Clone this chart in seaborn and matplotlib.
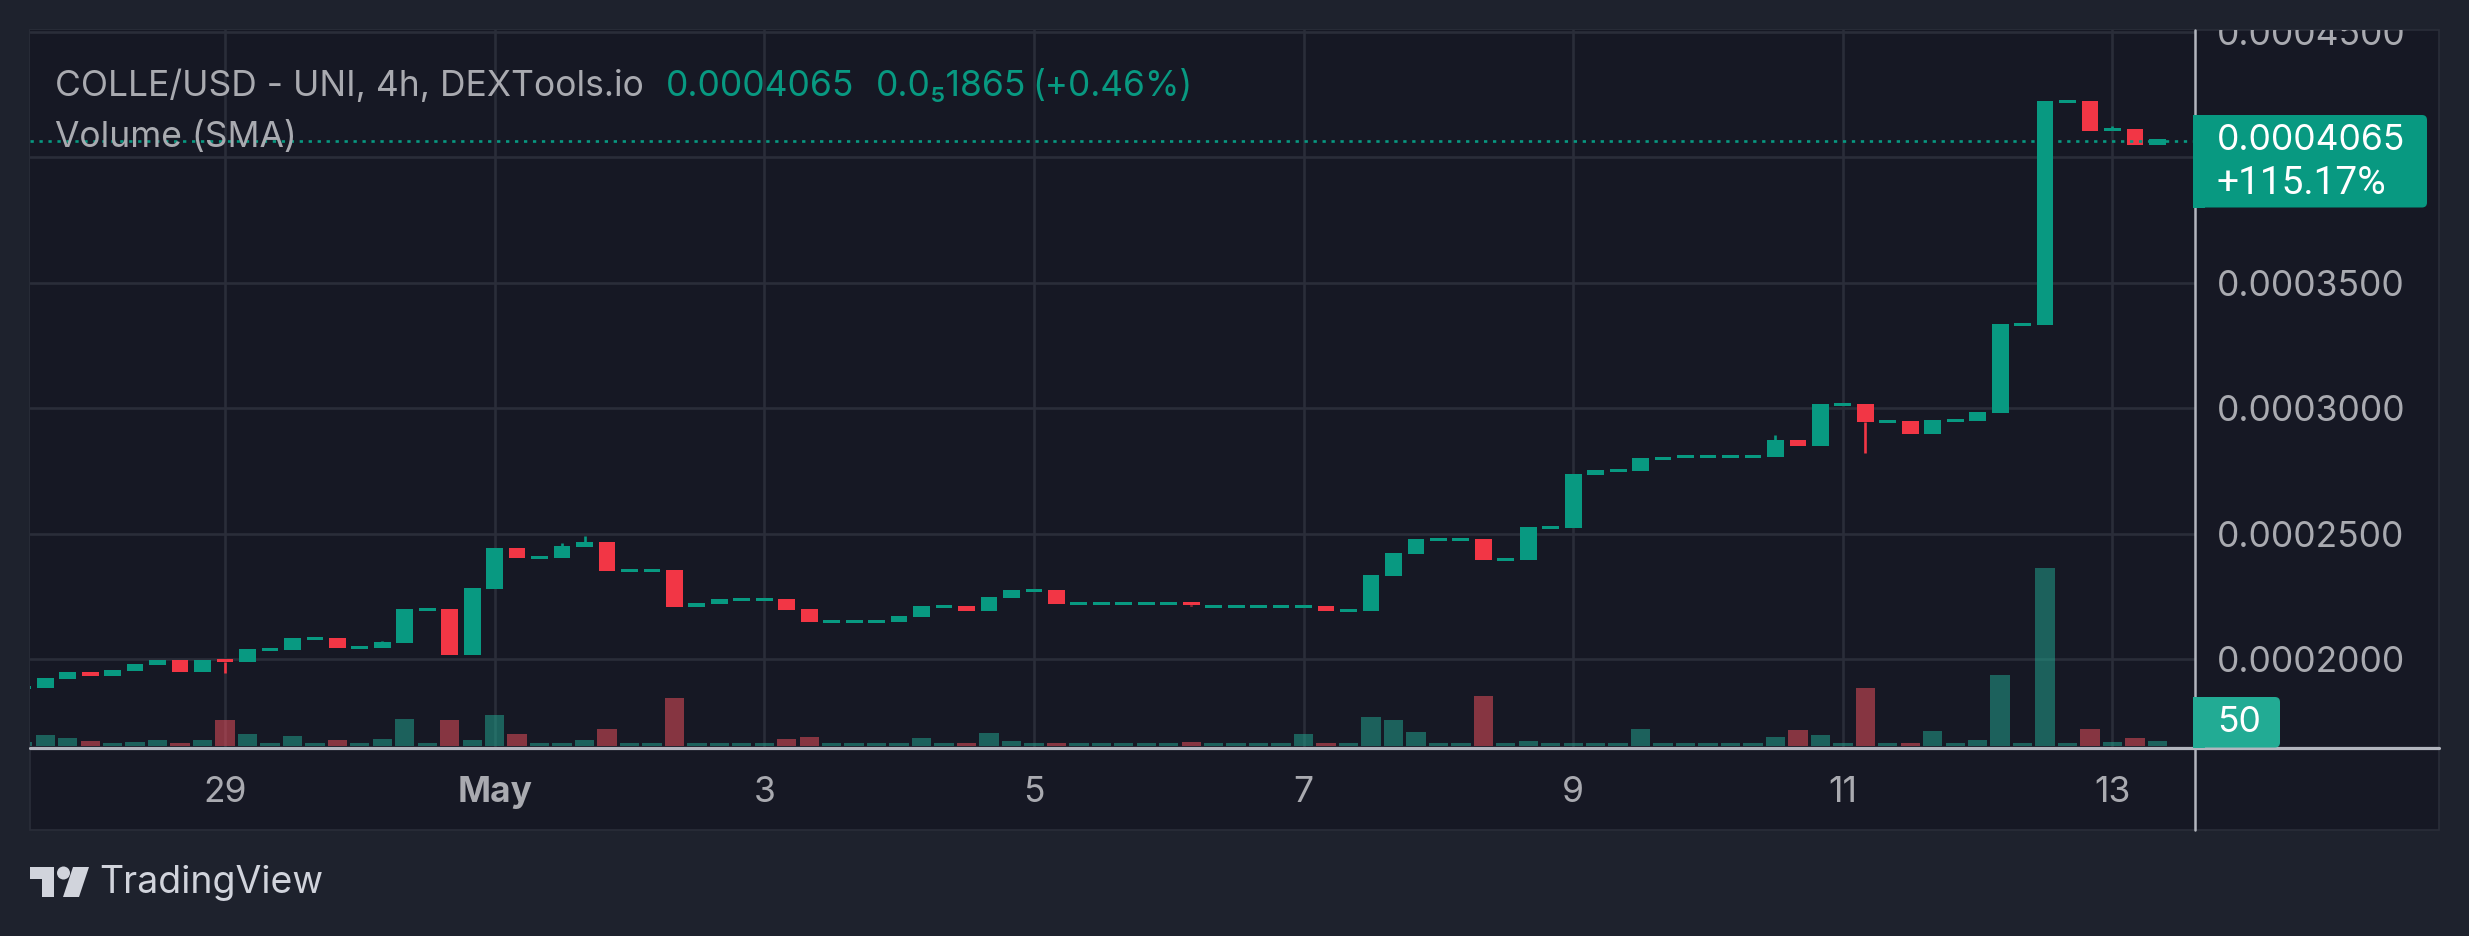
import matplotlib
matplotlib.use("Agg")
import matplotlib.pyplot as plt
from matplotlib.lines import Line2D
from matplotlib.patches import Rectangle, FancyBboxPatch, Polygon, Ellipse
from matplotlib.transforms import Bbox, TransformedBbox
import seaborn as sns
import pandas as pd

# 4h candles, prices in units of 0.0000001, first one is partly cut by the pane
candle_ids = list(range(-9, 87))
body_high = [1894, 1926, 1949, 1949, 1957, 1981, 1997, 1997, 1997, 2001, 2041, 2045,
             2085, 2089, 2085, 2053, 2069, 2201, 2205, 2201, 2285, 2444, 2444, 2412,
             2452, 2468, 2468, 2360, 2360, 2356, 2225, 2241, 2245, 2245, 2241, 2201,
             2157, 2157, 2157, 2173, 2213, 2217, 2213, 2249, 2277, 2281, 2277, 2229,
             2229, 2229, 2229, 2229, 2229, 2217, 2217, 2217, 2217, 2217, 2213, 2201,
             2336, 2424, 2480, 2484, 2484, 2480, 2404, 2528, 2532, 2739, 2755, 2759,
             2803, 2807, 2815, 2815, 2815, 2815, 2875, 2875, 3019, 3023, 3019, 2955,
             2951, 2955, 2959, 2987, 3334, 3338, 4224, 4228, 4224, 4116, 4112, 4072]
body_low = [1882, 1886, 1922, 1934, 1934, 1953, 1977, 1949, 1949, 1989, 1989, 2033,
            2037, 2077, 2045, 2041, 2045, 2065, 2193, 2017, 2017, 2281, 2404, 2400,
            2404, 2448, 2352, 2348, 2348, 2209, 2209, 2221, 2233, 2233, 2197, 2149,
            2145, 2145, 2145, 2149, 2169, 2205, 2193, 2193, 2245, 2269, 2221, 2217,
            2217, 2217, 2217, 2217, 2217, 2205, 2205, 2205, 2205, 2205, 2193, 2189,
            2193, 2332, 2420, 2472, 2472, 2396, 2392, 2396, 2520, 2524, 2735, 2747,
            2751, 2795, 2803, 2803, 2803, 2803, 2807, 2851, 2851, 3011, 2947, 2943,
            2899, 2899, 2947, 2951, 2983, 3326, 3330, 4216, 4104, 4104, 4048, 4048]
down_ids = [-6, -2, 0, 5, 10, 13, 17, 20, 25, 26, 33, 37, 43, 49, 56, 70, 73, 75, 83, 85]

wick_ids = [0, 7, 15, 16, 43, 69, 73, 84]
wick_far = [1945, 2073, 2464, 2492, 2213, 2895, 2823, 4124]

volume = [43, 110, 80, 50, 30, 40, 60, 30, 60, 260, 120, 30,
          100, 30, 60, 30, 70, 270, 30, 260, 60, 310, 120, 30,
          30, 60, 170, 30, 30, 480, 30, 30, 30, 30, 70, 90,
          30, 30, 30, 30, 80, 30, 30, 130, 50, 30, 30, 30,
          30, 30, 30, 30, 40, 30, 30, 30, 30, 120, 30, 30,
          290, 260, 140, 30, 30, 500, 30, 50, 30, 30, 30, 30,
          170, 30, 30, 30, 30, 30, 90, 160, 110, 30, 580, 30,
          30, 150, 30, 60, 710, 30, 1780, 30, 170, 40, 80, 50]

price_ticks = [0.0002, 0.00025, 0.0003, 0.00035, 0.0004, 0.00045]
# the 0.0004000 label sits under the last price tag in the reference
price_labels = ["0.0002000", "0.0002500", "0.0003000", "0.0003500", "", "0.0004500"]
date_ticks = [0, 12, 24, 36, 48, 60, 72, 84]
date_labels = ["29", "May", "3", "5", "7", "9", "11", "13"]
last_price = 0.0004065

OUTER = "#1e222d"
PANE = "#161824"
GRID = "#2a2d39"
GREEN = "#089981"
RED = "#f23645"
VOL_GREEN = "#22ab94"
VOL_RED = "#f7525f"
AXIS = "#b2b5be"
TEXT = "#a9aab0"
LOGO = "#d1d4dc"
W, H = 2469, 936


def fx(px):
    return px / W


def fy(py):
    return 1 - py / H


df = pd.DataFrame({"id": candle_ids, "high": body_high, "low": body_low, "vol": volume})
df["high"] = df["high"] * 1e-7
df["low"] = df["low"] * 1e-7
df["size"] = df["high"] - df["low"]
df["down"] = df["id"].isin(down_ids)

sns.set_style("dark")
plt.rcParams["font.family"] = ["Inter", "DejaVu Sans"]

fig = plt.figure(figsize=(W / 100, H / 100), dpi=100, facecolor=OUTER)
fig.add_artist(Rectangle((fx(30), fy(830)), fx(2439 - 30), (830 - 30) / H, transform=fig.transFigure,
                         facecolor=PANE, edgecolor=GRID, linewidth=1.2))

ax = fig.add_axes([fx(30), fy(748), fx(2195 - 30), (748 - 30) / H])
ax.set_facecolor(PANE)
vol_ax = ax.twinx()
ax.set_zorder(2)
vol_ax.set_zorder(3)
vol_ax.patch.set_visible(False)

for is_down, colour in [(False, GREEN), (True, RED)]:
    part = df[df["down"] == is_down]
    sns.barplot(data=part, x="id", y="size", bottom=part["low"].values, native_scale=True,
                width=0.745, color=colour, saturation=1, linewidth=0, errorbar=None, ax=ax, zorder=3)

for wid, far in zip(wick_ids, wick_far):
    row = df[df["id"] == wid].iloc[0]
    near = row["high"] if far * 1e-7 > row["high"] else row["low"]
    ax.vlines(wid, near, far * 1e-7, color=RED if row["down"] else GREEN, linewidth=1.9, zorder=3)

for is_down, colour in [(False, VOL_GREEN), (True, VOL_RED)]:
    part = df[df["down"] == is_down]
    sns.barplot(data=part, x="id", y="vol", native_scale=True, width=0.86, color=colour,
                saturation=1, alpha=0.5, linewidth=0, errorbar=None, ax=vol_ax)

ax.axhline(last_price, color=GREEN, linewidth=1.9, linestyle=(0, (1.25, 2.15)), zorder=4)

ax.set_xlim((30 - 225) / 22.47, (2195 - 225) / 22.47)
ax.set_ylim(0.00016466, 0.00045070)
vol_ax.set_ylim(-20, 7160)
ax.set_xlabel("")
ax.set_ylabel("")
vol_ax.set_xlabel("")
vol_ax.set_ylabel("")

ax.yaxis.tick_right()
ax.set_yticks(price_ticks)
ax.set_yticklabels(price_labels)
ax.set_xticks(date_ticks)
ax.set_xticklabels(date_labels)
ax.grid(True, color=GRID, linewidth=1.9, zorder=0)
ax.set_axisbelow(True)
ax.tick_params(axis="y", length=0, pad=16, labelsize=25.5, labelcolor=TEXT)
ax.tick_params(axis="x", length=0, pad=20, labelsize=25.5, labelcolor=TEXT)
vol_ax.set_yticks([])
for side in ["top", "bottom", "left", "right"]:
    ax.spines[side].set_visible(False)
    vol_ax.spines[side].set_visible(False)

# the top price label is cut by the pane edge
clip = TransformedBbox(Bbox([[0, 0], [1, fy(30)]]), fig.transFigure)
for label in ax.get_yticklabels():
    label.set_clip_box(clip)
    label.set_clip_on(True)
ax.get_xticklabels()[1].set_fontweight("bold")

fig.add_artist(Line2D([fx(30), fx(2439)], [fy(748.3), fy(748.3)], color=AXIS, linewidth=2.3, zorder=5))
fig.add_artist(Line2D([fx(2195), fx(2195)], [fy(30), fy(830)], color=AXIS, linewidth=1.8, zorder=5))

# price and volume tags on the scale
tag = 5
fig.add_artist(FancyBboxPatch((2193 + tag, H - 207.5 + tag), 2427 - 2193 - 2 * tag, 207.5 - 115 - 2 * tag,
                              boxstyle=f"round,pad={tag}", transform=None, facecolor=GREEN, linewidth=0, zorder=6))
fig.add_artist(Rectangle((2193, H - 207.5), 12, 207.5 - 115, transform=None, facecolor=GREEN, linewidth=0, zorder=6))
fig.add_artist(FancyBboxPatch((2193 + tag, H - 747.5 + tag), 2280 - 2193 - 2 * tag, 747.5 - 697 - 2 * tag,
                              boxstyle=f"round,pad={tag}", transform=None, facecolor=VOL_GREEN, linewidth=0, zorder=6))
fig.add_artist(Rectangle((2193, H - 747.5), 12, 747.5 - 697, transform=None, facecolor=VOL_GREEN, linewidth=0, zorder=6))
fig.text(fx(2217), fy(141), "0.0004065", color="white", fontsize=25.5, va="center", zorder=7)
# Roboto has wide ones like the tag in the reference
fig.text(fx(2217), fy(183), "+115.17%", color="white", fontsize=28, family="Roboto", va="center", zorder=7)
fig.text(fx(2217), fy(723), "50", color="white", fontsize=25.5, va="center", zorder=7)

# legend lines over the pane
fig.text(fx(55), fy(96), "COLLE/USD - UNI, 4h, DEXTools.io", color=TEXT, fontsize=25.5, va="baseline", zorder=7)
fig.text(fx(55), fy(147), "Volume (SMA)", color=TEXT, fontsize=25.5, va="baseline", zorder=7)
fig.text(fx(666), fy(96), "0.0004065", color=GREEN, fontsize=25.5, va="baseline", zorder=7)
fig.text(fx(876), fy(96), "0.0₅1865", color=GREEN, fontsize=25.5, va="baseline", zorder=7)
fig.text(fx(1032), fy(96), "(+0.46%)", color=GREEN, fontsize=25.3, va="baseline", zorder=7)

# TradingView logo and name below the pane
logo_t = [(30, 867), (54, 867), (54, 897), (42, 897), (42, 879), (30, 879)]
logo_slash = [(73, 867), (89, 867), (79, 897), (63, 897)]
for shape in [logo_t, logo_slash]:
    fig.add_artist(Polygon([(x, H - y) for x, y in shape], closed=True, transform=None, facecolor=LOGO, linewidth=0))
fig.add_artist(Ellipse((63.5, H - 873), 13, 13, transform=None, facecolor=LOGO, linewidth=0))
fig.text(fx(99), fy(893), "TradingView", color=LOGO, fontsize=27, va="baseline")

fig.savefig("out.png", dpi=100, facecolor=OUTER)
